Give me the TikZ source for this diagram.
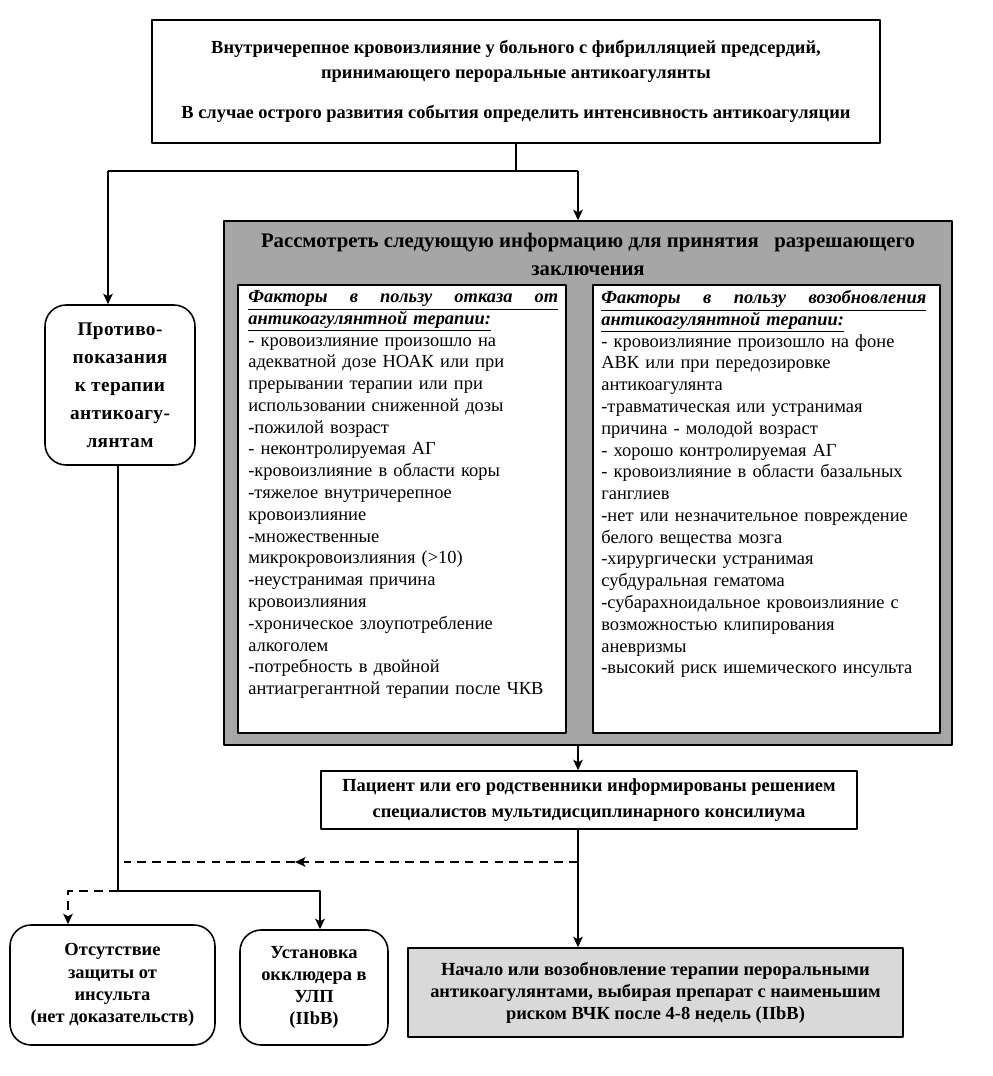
\documentclass[tikz,border=0pt]{standalone}
\usepackage{fontspec}
\setmainfont{Liberation Serif}
\usetikzlibrary{calc,arrows.meta}

\definecolor{boxgray}{HTML}{A6A6A6}
\definecolor{startgray}{HTML}{D9D9D9}

\begin{document}
\begin{tikzpicture}[x=0.02cm, y=-0.02cm, >={Stealth[length=6pt,width=5.5pt,inset=1.5pt]}, line join=round,
    box/.style={draw, line width=0.9pt, inner sep=0pt, align=center, font=\bfseries\fontsize{10.5}{14}\selectfont},
    rbox/.style={box, rounded corners=12pt},
    listtext/.style={anchor=north west, inner sep=0pt, align=left, text width=6.3cm, font=\fontsize{10.5}{12.4}\selectfont},
    link/.style={line width=0.8pt},
    dashlink/.style={link, dash pattern=on 5pt off 3.5pt}]
        \useasboundingbox (0,0) rectangle (992,1076);
        
        % верхний блок
        \node[box, minimum width=14.56cm, minimum height=2.46cm] (top) at (516,81.5)
            {Внутричерепное кровоизлияние у больного с фибрилляцией предсердий,\\
             принимающего пероральные антикоагулянты\\[9pt]
             В случае острого развития события определить интенсивность  антикоагуляции};
        
        % серый блок с факторами
        \node[box, fill=boxgray, minimum width=14.56cm, minimum height=10.48cm] (grey) at (588,483) {};
        \node[font=\bfseries\fontsize{11.8}{16}\selectfont, align=center, inner sep=0pt] (greyhead) at (588,254)
            {Рассмотреть следующую информацию для принятия \ \ разрешающего\\заключения};
        \node[box, fill=white, minimum width=6.56cm, minimum height=8.96cm] (leftin) at (402,509) {};
        \node[box, fill=white, minimum width=6.94cm, minimum height=8.96cm] (rightin) at (766.5,509) {};
        
        \node[listtext] (lefttext) at (248,290)
            {\underline{\makebox[6.2cm][s]{\bfseries\itshape Факторы\hfill в\hfill пользу\hfill отказа\hfill от}}\\
             \underline{\bfseries\itshape антикоагулянтной терапии:}\\
             - кровоизлияние произошло на\\
             адекватной дозе НОАК или при\\
             прерывании  терапии или при\\
             использовании сниженной дозы\\
             -пожилой возраст\\
             - неконтролируемая  АГ\\
             -кровоизлияние в области коры\\
             -тяжелое внутричерепное\\
             кровоизлияние\\
             -множественные\\
             микрокровоизлияния  (>10)\\
             -неустранимая  причина\\
             кровоизлияния\\
             -хроническое злоупотребление\\
             алкоголем\\
             -потребность в двойной\\
             антиагрегантной терапии после ЧКВ};
        
        \node[listtext, text width=6.6cm] (righttext) at (601,290)
            {\underline{\makebox[6.5cm][s]{\bfseries\itshape Факторы\hfill в\hfill пользу\hfill возобновления}}\\
             \underline{\bfseries\itshape антикоагулянтной терапии:}\\
             - кровоизлияние произошло на фоне\\
             АВК или при передозировке\\
             антикоагулянта\\
             -травматическая  или устранимая\\
             причина - молодой возраст\\
             - хорошо контролируемая АГ\\
             - кровоизлияние в области базальных\\
             ганглиев\\
             -нет или незначительное повреждение\\
             белого вещества мозга\\
             -хирургически устранимая\\
             субдуральная гематома\\
             -субарахноидальное кровоизлияние с\\
             возможностью клипирования\\
             аневризмы\\
             -высокий риск ишемического инсульта};
        
        % противопоказания
        \node[rbox, minimum width=3cm, minimum height=3.2cm, font=\bfseries\fontsize{11}{15.9}\selectfont\addfontfeature{LetterSpace=2}] (contra) at (120,385)
            {Противо-\\показания\\к терапии\\антикоагу-\\лянтам};
        
        % информирование
        \node[box, font=\bfseries\fontsize{10.5}{14.8}\selectfont, minimum width=10.72cm, minimum height=1.16cm] (inform) at (589,800)
            {Пациент или его родственники информированы решением\\
             специалистов мультидисциплинарного консилиума};
        
        % нижние блоки
        \node[rbox, font=\bfseries\fontsize{10.5}{12.6}\selectfont, minimum width=4.1cm, minimum height=2.4cm] (absent) at (112.5,985)
            {Отсутствие\\защиты от\\инсульта\\(нет доказательств)};
        \node[rbox, font=\bfseries\fontsize{10.5}{12.6}\selectfont, minimum width=2.96cm, minimum height=2.3cm] (occluder) at (314,987.5)
            {Установка\\окклюдера в\\УЛП\\(IIbB)};
        \node[box, fill=startgray, font=\bfseries\fontsize{10.5}{12.6}\selectfont, minimum width=9.9cm, minimum height=1.78cm] (start) at (655.5,992.5)
            {Начало или возобновление терапии пероральными\\
             антикоагулянтами, выбирая препарат с наименьшим\\
             риском ВЧК  после 4-8 недель (IIbB)};
        
        % развилка под верхним блоком
        \coordinate (fork) at (516,171);
        \coordinate (forkL) at (108,171);
        \coordinate (forkR) at (578,171);
        \draw[link] (top.south) -- (fork);
        \draw[link] (forkL) -- (forkR);
        \draw[link, ->] (forkR) -- (forkR |- grey.north);
        \draw[link, ->] (forkL) -- (forkL |- contra.north);
        
        % основная вертикаль
        \draw[link, ->] (forkR |- grey.south) -- (forkR |- inform.north);
        \draw[link, ->] (forkR |- inform.south) -- (forkR |- start.north);
        
        % пунктир влево
        \coordinate (dashR) at (578,862);
        \coordinate (dashM) at (295,862);
        \coordinate (dashL) at (124,862);
        \draw[dashlink, ->] (dashR) -- (dashM);
        \draw[dashlink] (dashM) -- (dashL);
        
        % ветвь от противопоказаний
        \coordinate (lowJ) at (118,891);
        \draw[link] (contra.south -| lowJ) -- (lowJ);
        \draw[link, ->] (lowJ) -| ($(occluder.north)+(6,0)$);
        \draw[dashlink, ->] (lowJ) -| ($(absent.north)+(-44.5,0)$);
    \end{tikzpicture}
\end{document}
